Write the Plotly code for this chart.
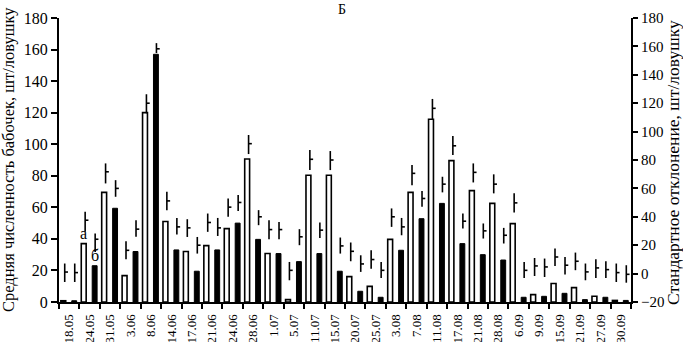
import plotly.graph_objects as go

dates = ["18.05", "24.05", "31.05", "3.06", "8.06", "14.06", "17.06", "21.06", "24.06",
         "28.06", "1.07", "5.07", "11.07", "15.07", "20.07", "25.07", "3.08", "7.08",
         "11.08", "17.08", "21.08", "28.08", "6.09", "9.09", "15.09", "21.09", "27.09", "30.09"]

# mean number of moths per trap (left axis)
mean_a = [0.8, 37, 69.5, 16.7, 120, 51, 32, 35.7, 46.5, 90.6, 30.7, 1.5, 80.3, 80.3,
          16.1, 9.9, 39.7, 69.5, 115.8, 89.6, 70.6, 62.5, 49.7, 4.7, 11.7, 9.1, 3.6, 1]
mean_b = [0.8, 23, 59.4, 32, 157, 33, 19.5, 33, 50, 39.7, 30.7, 25.6, 30.7, 19.5,
          6.8, 3, 32.8, 52.8, 62.5, 37, 30, 26.6, 3, 3.6, 5.5, 1.5, 3, 1]

# standard deviation markers (right axis): high, low, tick
hi_a = [7.1, 43.5, 77.6, 22.8, 126.3, 57.6, 38.3, 42.3, 52.9, 97.6, 37.6, 8.2, 87, 86.3,
        21.9, 16.4, 45.9, 76.4, 123, 96.9, 77.6, 69.9, 56.5, 11, 17.6, 14.8, 10.1, 7.1]
lo_a = [-5.9, 29.4, 63.5, 10.1, 112.9, 44.7, 25.8, 29.4, 40, 84.2, 24.2, -4.7, 72.9, 72.9,
        8.7, 3.5, 32.9, 62.3, 108.9, 83.5, 64.2, 56.5, 43, -1.7, 5.4, 2.4, -3.1, -5.9]
tk_a = [1.1, 37.6, 71.7, 16.4, 120, 51.2, 32.2, 36, 46.8, 91.5, 31, 2.3, 80.5, 80,
        15.7, 9.9, 40, 70.6, 116.4, 90, 71.3, 63, 49.8, 5.4, 11.7, 8.7, 4, 0.7]

hi_b = [7.1, 28.2, 65.8, 37.6, 162.3, 39.2, 25.8, 39.2, 55.3, 44.7, 36.4, 31.3, 36, 25.4,
        12.9, 8.2, 39.2, 58.1, 68.2, 42.3, 35.3, 32.2, 8.2, 10.6, 11.7, 7.1, 8.7, 5.9]
lo_b = [-5.9, 15.2, 54.1, 25.9, 155.3, 27.5, 14.1, 26.5, 44, 34.1, 24.2, 20, 25.1, 14.1,
        1.2, -3.1, 27, 47, 57.2, 31.8, 24.7, 21.2, -3.1, -2.4, -0.7, -4.7, -3.1, -6.4]
tk_b = [0.7, 24.2, 60, 31.3, 158.3, 32.9, 20, 32.2, 50.1, 40, 31, 25.9, 30.6, 19.5,
        6.8, 2.3, 32.9, 52.9, 63, 36.9, 30.1, 27, 2.3, 4.7, 5.9, 1.2, 2.8, -0.5]

left_ticks = list(range(0, 181, 20))
right_ticks = list(range(-20, 181, 20))

FONT = "Liberation Serif"
idx = list(range(len(dates)))
BW = 0.24
OFF_A, OFF_B = -0.29, 0.245      # bar centres relative to category
SEG_A, SEG_B = -0.22, 0.27       # marker positions relative to category
TICKLEN = 0.16

fig = go.Figure()
fig.add_trace(go.Bar(x=idx, y=mean_a, width=BW, offset=OFF_A - BW / 2,
                     marker=dict(color="white", line=dict(color="black", width=1.6)),
                     name="а"))
fig.add_trace(go.Bar(x=idx, y=mean_b, width=BW, offset=OFF_B - BW / 2,
                     marker=dict(color="black", line=dict(color="black", width=1)),
                     name="б"))


def seg_trace(hi, lo, tk, off):
    xs, ys = [], []
    for i in idx:
        x0 = i + off
        xs += [x0, x0, None, x0, x0 + TICKLEN, None]
        ys += [lo[i], hi[i], None, tk[i], tk[i], None]
    return go.Scatter(x=xs, y=ys, mode="lines", yaxis="y2",
                      line=dict(color="black", width=1.6), hoverinfo="skip",
                      showlegend=False)


fig.add_trace(seg_trace(hi_a, lo_a, tk_a, SEG_A))
fig.add_trace(seg_trace(hi_b, lo_b, tk_b, SEG_B))

fig.update_layout(
    width=683, height=342,
    margin=dict(l=59, r=52, t=18, b=40, autoexpand=False),
    plot_bgcolor="white", paper_bgcolor="white",
    barmode="overlay", showlegend=False,
    font=dict(family=FONT, color="black"),
    xaxis=dict(range=[-0.5, len(dates) - 0.5], tickvals=idx, ticktext=dates,
               tickangle=-90, ticks="outside", ticklen=5, tickcolor="rgba(0,0,0,0)",
               tickfont=dict(family=FONT, size=13, color="black"), automargin=False,
               minor=dict(tickvals=[i - 0.5 for i in range(len(dates) + 1)],
                          ticks="outside", ticklen=5, tickcolor="black", tickwidth=2,
                          showgrid=False),
               showline=True, linecolor="black", linewidth=2,
               showgrid=False, zeroline=False),
    yaxis=dict(range=[0, 180], tickvals=left_ticks, ticks="outside", ticklen=6,
               tickwidth=2, tickcolor="black", automargin=False,
               tickfont=dict(family=FONT, size=16, color="black"),
               showline=True, linecolor="black", linewidth=2,
               showgrid=False, zeroline=False),
    yaxis2=dict(range=[-20, 180], tickvals=right_ticks, ticks="outside", ticklen=5,
                tickwidth=2, tickcolor="black", overlaying="y", side="right",
                automargin=False,
                tickfont=dict(family=FONT, size=15, color="black"),
                showline=True, linecolor="black", linewidth=2,
                showgrid=False, zeroline=False),
)

fig.add_annotation(text="Средняя численность бабочек, шт/ловушку", textangle=-90,
                   xref="paper", yref="paper", x=0, y=0.5, xshift=-51,
                   xanchor="center", yanchor="middle",
                   showarrow=False, font=dict(family=FONT, size=16.5, color="black"))
fig.add_annotation(text="Стандартное отклонение, шт/ловушку", textangle=-90,
                   xref="paper", yref="paper", x=1, y=0.5, xshift=42, yshift=-3,
                   xanchor="center", yanchor="middle",
                   showarrow=False, font=dict(family=FONT, size=17.5, color="black"))
fig.add_annotation(text="Б", xref="paper", yref="paper", x=0.495, y=1, yshift=9,
                   yanchor="middle",
                   showarrow=False, font=dict(family=FONT, size=14, color="black"))
fig.add_annotation(text="а", x=1 + OFF_A, y=mean_a[1], yanchor="bottom",
                   showarrow=False, font=dict(family=FONT, size=16, color="black"))
fig.add_annotation(text="б", x=1 + OFF_B, y=mean_b[1], yanchor="bottom",
                   showarrow=False, font=dict(family=FONT, size=16, color="black"))

fig.write_html("out.html", config={"displayModeBar": False},
               post_script="document.body.style.margin='0';"
                           "document.body.style.overflow='hidden';")
